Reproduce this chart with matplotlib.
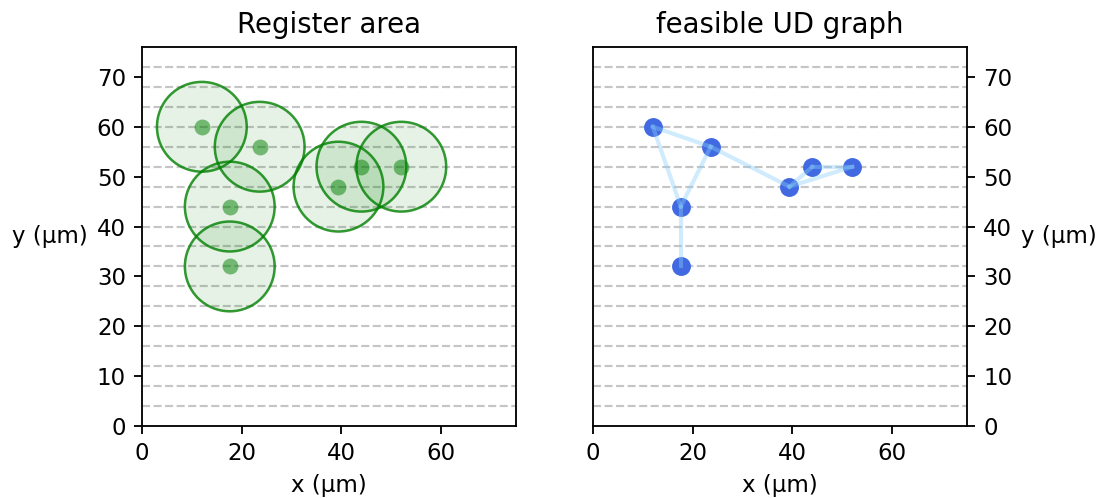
""" Register layout and its unit-disk graph. """

import numpy as np
from matplotlib import pyplot as plt
from matplotlib.patches import Circle

# Atom positions (um)
atom_x = [12.0, 23.6, 17.6, 17.6, 39.4, 44.0, 52.0]
atom_y = [60.0, 56.0, 44.0, 32.0, 48.0, 52.0, 52.0]

# Edges of the feasible UD graph (index pairs)
edges = [(0, 1), (0, 2), (1, 2), (2, 3), (1, 4), (4, 5), (4, 6), (5, 6)]

# Half of the blockade radius, drawn around each atom
radius = 9.0

# Horizontal guide rows
rows = np.arange(4, 76, 4)

xlim = (0, 75)
ylim = (0, 76)

dpi = 165


def add_rows(ax):
    for yy in rows:
        ax.axhline(yy, color='gray', ls='--', lw=0.95, alpha=0.45, zorder=0)


fig = plt.figure(figsize=(1098/dpi, 498/dpi), dpi=dpi)
ax1 = fig.add_axes([142/1098, 71/498, 374/1098, 381/498])
ax2 = fig.add_axes([593/1098, 71/498, 374/1098, 381/498])

# Left: register area
add_rows(ax1)
for xx, yy in zip(atom_x, atom_y):
    ax1.add_patch(Circle((xx, yy), radius, facecolor='green', alpha=0.1,
                         edgecolor='none', zorder=1))
    ax1.add_patch(Circle((xx, yy), radius, facecolor='none',
                         edgecolor='green', lw=1.1, alpha=0.8, zorder=2))
ax1.scatter(atom_x, atom_y, s=48, color='green', alpha=0.5, lw=0, zorder=3)
ax1.set_title('Register area', fontsize=12)
ax1.set_xlabel('x (µm)')
ax1.set_ylabel('y (µm)', rotation=0, ha='right', va='center')

# Right: feasible UD graph
add_rows(ax2)
ax2.scatter(atom_x, atom_y, s=68, color='royalblue', lw=0, zorder=3)
for i, j in edges:
    ax2.plot([atom_x[i], atom_x[j]], [atom_y[i], atom_y[j]],
             color='lightskyblue', lw=1.8, alpha=0.4, zorder=4)
ax2.set_title('feasible UD graph', fontsize=12)
ax2.set_xlabel('x (µm)')
ax2.yaxis.tick_right()
ax2.yaxis.set_label_position('right')
ax2.set_ylabel('y (µm)', rotation=0, ha='left', va='center')

for ax in (ax1, ax2):
    ax.set_xlim(xlim)
    ax.set_ylim(ylim)
    ax.set_aspect('equal', adjustable='box')
    ax.set_xticks([0, 20, 40, 60])
    ax.set_yticks(np.arange(0, 80, 10))

plt.savefig('out.png', dpi=dpi)
